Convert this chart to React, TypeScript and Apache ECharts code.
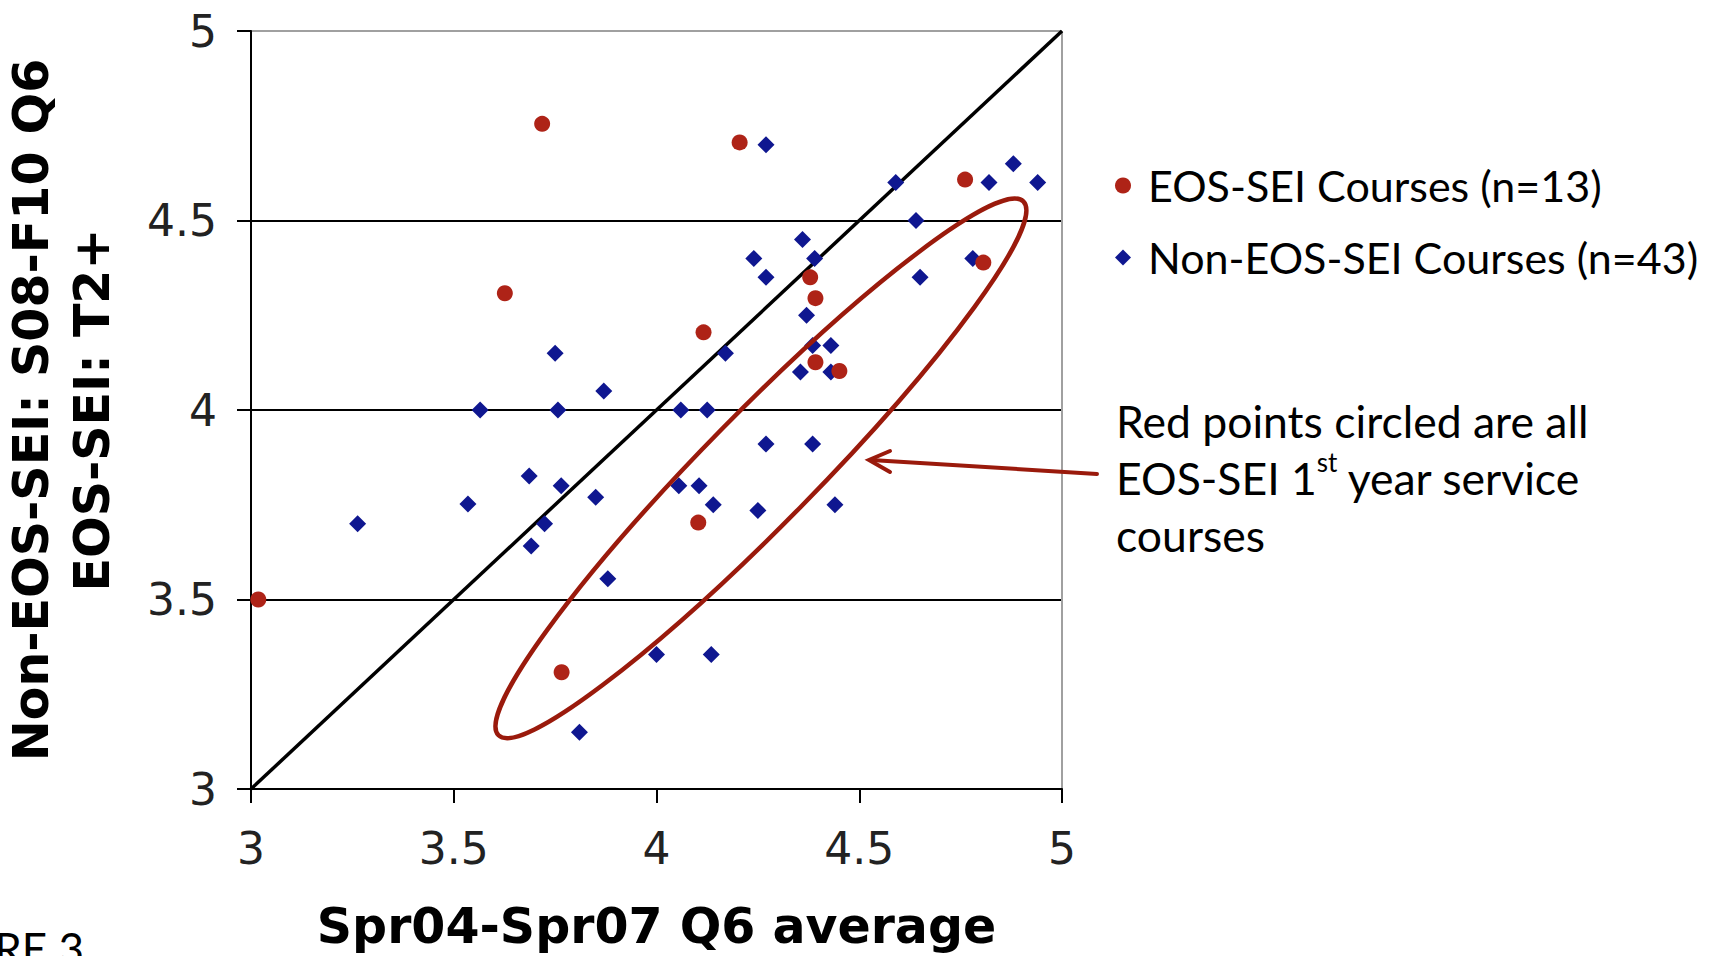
import React, { useEffect, useRef } from "react";
import * as echarts from "echarts";

// ---- Data ----
const AXIS_MIN = 3;
const AXIS_MAX = 5;
const AXIS_STEP = 0.5;

const X_TITLE = "Spr04-Spr07 Q6 average";
const Y_TITLE_LINES = ["Non-EOS-SEI: S08-F10 Q6", "EOS-SEI: T2+"];

const SERIES_EOS = "EOS-SEI Courses (n=13)";
const SERIES_NON = "Non-EOS-SEI Courses (n=43)";

const eosX = [3.718, 4.205, 4.761, 3.626, 4.379, 4.392, 4.806, 4.116, 4.392, 4.451, 4.103, 3.766, 3.018];
const eosY = [4.755, 4.706, 4.608, 4.308, 4.35, 4.295, 4.389, 4.205, 4.126, 4.103, 3.703, 3.308, 3.5];

const nonX = [
  4.27, 4.59, 4.82, 4.88, 4.94, 4.64, 4.78, 4.65, 4.36, 4.24, 4.39, 4.27, 4.37, 4.17,
  4.385, 4.43, 4.355, 4.43, 3.87, 4.06, 4.125, 4.27, 4.385, 4.055, 4.105, 3.85, 4.14,
  4.25, 4.44, 3.88, 4.0, 4.135, 3.81, 3.75, 3.565, 3.757, 3.686, 3.765, 3.263, 3.535,
  3.724, 3.691,
];
const nonY = [
  4.7, 4.6, 4.6, 4.65, 4.6, 4.5, 4.4, 4.35, 4.45, 4.4, 4.4, 4.35, 4.25, 4.15,
  4.17, 4.17, 4.1, 4.1, 4.05, 4.0, 4.0, 3.91, 3.91, 3.8, 3.8, 3.77, 3.75,
  3.735, 3.75, 3.555, 3.355, 3.355, 3.15, 4.15, 4.0, 4.0, 3.826, 3.8, 3.7, 3.752,
  3.7, 3.641,
];

// identity line y = x
const diagX = [3, 5];
const diagY = [3, 5];

// circled region (ellipse) given by the two ends of its long axis, in data units
const ELLIPSE_END_A = [3.61, 3.142];
const ELLIPSE_END_B = [4.905, 4.55];
const ELLIPSE_RATIO = 0.148;

const NOTE_LINES = ["Red points circled are all", "EOS-SEI 1{sup|st} year service", "courses"];
const FIGURE_LABEL = "FIGURE 3";

const RED = "#AE2317";
const BLUE = "#0F1790";
const DARK_RED = "#9A1A0C";

export default function App() {
  const ref = useRef<HTMLDivElement>(null);

  useEffect(() => {
    if (!ref.current) return;
    const chart = echarts.init(ref.current, undefined, { renderer: "svg" });

    const eosData = eosX.map((x, i) => [x, eosY[i]]);
    const nonData = nonX.map((x, i) => [x, nonY[i]]);
    const diagData = diagX.map((x, i) => [x, diagY[i]]);

    const labelFont = "'DejaVu Sans', Verdana, sans-serif";
    const textFont = "Lato, 'Open Sans', sans-serif";

    const option: any = {
      animation: false,
      backgroundColor: "#ffffff",
      grid: { left: 250, right: 654, top: 31, bottom: 164, containLabel: false },
      legend: {
        orient: "vertical",
        left: 1110,
        top: 159,
        itemWidth: 16,
        itemHeight: 16,
        itemGap: 29,
        data: [SERIES_EOS, SERIES_NON],
        textStyle: {
          fontFamily: textFont,
          fontSize: 43,
          color: "#000",
          padding: [0, 0, 0, 12],
        },
      },
      xAxis: {
        type: "value",
        min: AXIS_MIN,
        max: AXIS_MAX,
        interval: AXIS_STEP,
        name: X_TITLE,
        nameLocation: "middle",
        nameGap: 113,
        nameTextStyle: { fontFamily: labelFont, fontWeight: "bold", fontSize: 49, color: "#000" },
        axisLine: { show: true, onZero: false, lineStyle: { color: "#000", width: 2 } },
        axisTick: { show: true, inside: false, length: 14, lineStyle: { color: "#000", width: 2 } },
        axisLabel: { fontFamily: labelFont, fontSize: 44, color: "#222", margin: 37 },
        splitLine: {
          show: true,
          lineStyle: { color: ["rgba(0,0,0,0)", "rgba(0,0,0,0)", "rgba(0,0,0,0)", "rgba(0,0,0,0)", "#a0a0a0"], width: 2 },
        },
      },
      yAxis: {
        type: "value",
        min: AXIS_MIN,
        max: AXIS_MAX,
        interval: AXIS_STEP,
        name: Y_TITLE_LINES.join("\n"),
        nameLocation: "middle",
        nameRotate: 90,
        nameGap: 128,
        nameTextStyle: {
          fontFamily: labelFont,
          fontWeight: "bold",
          fontSize: 49,
          lineHeight: 61,
          color: "#000",
          align: "center",
        },
        axisLine: { show: true, onZero: false, lineStyle: { color: "#000", width: 2 } },
        axisTick: { show: true, inside: false, length: 14, lineStyle: { color: "#000", width: 2 } },
        axisLabel: { fontFamily: labelFont, fontSize: 44, color: "#222", margin: 34 },
        splitLine: {
          show: true,
          lineStyle: { color: ["#000", "#000", "#000", "#000", "#a0a0a0"], width: 2 },
        },
      },
      series: [
        {
          type: "line",
          name: "y = x",
          data: diagData,
          showSymbol: false,
          silent: true,
          lineStyle: { color: "#000", width: 3.5 },
          z: 1,
        },
        {
          type: "scatter",
          name: SERIES_NON,
          data: nonData,
          symbol: "diamond",
          symbolSize: 17,
          itemStyle: { color: BLUE, opacity: 1 },
          z: 3,
        },
        {
          type: "scatter",
          name: SERIES_EOS,
          data: eosData,
          symbol: "circle",
          symbolSize: 16,
          itemStyle: { color: RED, opacity: 1 },
          z: 4,
        },
        {
          type: "custom",
          name: "circled",
          silent: true,
          z: 6,
          data: [[(ELLIPSE_END_A[0] + ELLIPSE_END_B[0]) / 2, (ELLIPSE_END_A[1] + ELLIPSE_END_B[1]) / 2]],
          renderItem: (_params: any, api: any) => {
            const a = api.coord(ELLIPSE_END_A);
            const b = api.coord(ELLIPSE_END_B);
            const cx = (a[0] + b[0]) / 2;
            const cy = (a[1] + b[1]) / 2;
            const dx = b[0] - a[0];
            const dy = b[1] - a[1];
            const rx = Math.hypot(dx, dy) / 2;
            const ry = rx * ELLIPSE_RATIO;
            const rot = Math.atan2(-dy, dx);
            return {
              type: "ellipse",
              x: cx,
              y: cy,
              rotation: rot,
              shape: { cx: 0, cy: 0, rx, ry },
              style: { fill: "none", stroke: DARK_RED, lineWidth: 4.5 },
            };
          },
        },
      ],
      graphic: [
        {
          type: "line",
          shape: { x1: 1097, y1: 474, x2: 871, y2: 460 },
          style: { stroke: DARK_RED, lineWidth: 4, lineCap: "round" },
          z: 10,
        },
        {
          type: "polyline",
          shape: { points: [[890, 451], [869, 460], [890, 472]] },
          style: { stroke: DARK_RED, fill: "none", lineWidth: 4, lineCap: "round", lineJoin: "miter" },
          z: 10,
        },
        {
          type: "text",
          x: 1116,
          y: 392,
          style: {
            text: NOTE_LINES.join("\n"),
            fontFamily: textFont,
            fontSize: 44.5,
            lineHeight: 57,
            fill: "#000",
            align: "left",
            verticalAlign: "top",
            rich: {
              sup: { fontFamily: textFont, fontSize: 26, lineHeight: 30, verticalAlign: "top", fill: "#000" },
            },
          },
          z: 10,
        },
        {
          type: "text",
          x: 84,
          y: 926,
          style: {
            text: FIGURE_LABEL,
            fontFamily: textFont,
            fontSize: 44,
            fill: "#000",
            align: "right",
            verticalAlign: "top",
          },
          z: 10,
        },
      ],
    };

    chart.setOption(option);
    return () => chart.dispose();
  }, []);

  return (
    <div
      ref={ref}
      style={{ position: "fixed", left: 0, top: 0, width: 1716, height: 956, background: "#fff" }}
    />
  );
}
